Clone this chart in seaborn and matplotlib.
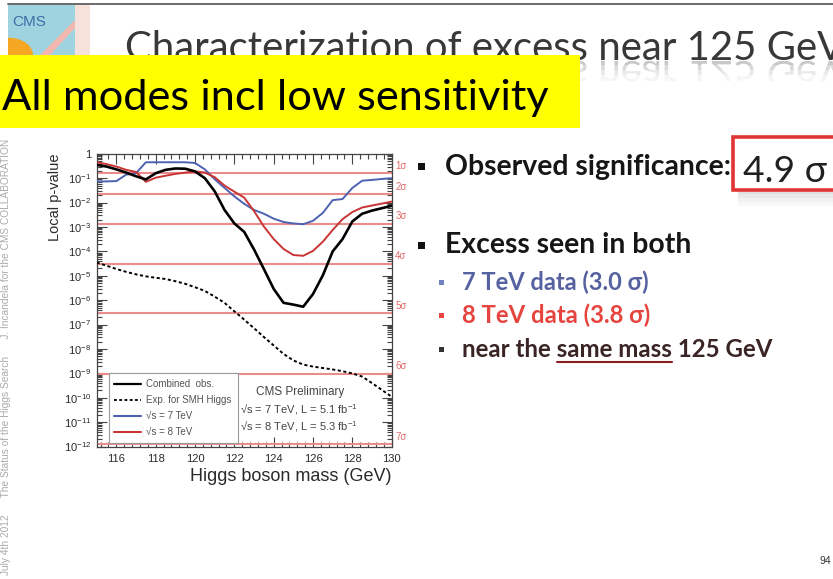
import matplotlib
matplotlib.use("Agg")
import matplotlib.pyplot as plt
from matplotlib.lines import Line2D
from matplotlib.patches import Rectangle, PathPatch, Wedge, Polygon
from matplotlib.textpath import TextPath
from matplotlib.font_manager import FontProperties
from matplotlib.transforms import Affine2D, Bbox, blended_transform_factory
from matplotlib.ticker import LogLocator, MultipleLocator, NullFormatter
import seaborn as sns

# ---------------------------------------------------------------- data
mass = [115.0, 115.5, 116.0, 116.5, 117.0, 117.5, 118.0, 118.5, 119.0, 119.5,
        120.0, 120.5, 121.0, 121.5, 122.0, 122.5, 123.0, 123.5, 124.0, 124.5,
        125.0, 125.5, 126.0, 126.5, 127.0, 127.5, 128.0, 128.5, 129.0, 129.5,
        130.0]

p_combined = [3.5e-1, 3.0e-1, 2.3e-1, 1.7e-1, 1.2e-1, 8.9e-2, 1.6e-1, 2.2e-1, 2.5e-1, 2.45e-1,
              1.9e-1, 1.0e-1, 2.9e-2, 5.0e-3, 1.4e-3, 6.3e-4, 1.2e-4, 1.9e-5, 2.9e-6, 7.8e-7,
              6.6e-7, 5.4e-7, 1.8e-6, 1.05e-5, 1.0e-4, 3.2e-4, 1.7e-3, 3.5e-3, 4.7e-3, 5.9e-3,
              7.4e-3]

p_expected = [3.5e-5, 2.6e-5, 1.9e-5, 1.45e-5, 1.15e-5, 9.5e-6, 8.3e-6, 7.4e-6, 6.0e-6, 4.7e-6,
              3.4e-6, 2.4e-6, 1.4e-6, 7.8e-7, 3.5e-7, 1.6e-7, 7.1e-8, 3.1e-8, 1.4e-8, 6.3e-9,
              3.4e-9, 2.3e-9, 1.9e-9, 1.66e-9, 1.45e-9, 1.23e-9, 1.0e-9, 7.4e-10, 4.0e-10, 2.1e-10,
              1.1e-10]

p_7tev = [7.4e-2, 7.4e-2, 7.6e-2, 1.4e-1, 1.6e-1, 4.5e-1, 4.5e-1, 4.5e-1, 4.5e-1, 4.5e-1,
          4.2e-1, 2.3e-1, 9.1e-2, 4.0e-2, 1.8e-2, 8.9e-3, 5.0e-3, 3.5e-3, 2.2e-3, 1.6e-3,
          1.4e-3, 1.3e-3, 1.8e-3, 3.8e-3, 1.26e-2, 1.4e-2, 4.0e-2, 7.9e-2, 8.5e-2, 9.3e-2,
          1.0e-1]

p_8tev = [4.5e-1, 3.8e-1, 3.0e-1, 2.2e-1, 1.8e-1, 7.1e-2, 1.05e-1, 1.26e-1, 1.5e-1, 1.7e-1,
          1.9e-1, 1.7e-1, 1.1e-1, 5.0e-2, 2.8e-2, 1.6e-2, 4.5e-3, 1.05e-3, 3.2e-4, 1.26e-4,
          7.1e-5, 6.6e-5, 1.05e-4, 2.5e-4, 7.6e-4, 2.1e-3, 4.1e-3, 6.3e-3, 7.6e-3, 9.1e-3,
          1.1e-2]

legend_labels = ["Combined  obs.", "Exp. for SMH Higgs", "\u221as = 7 TeV", "\u221as = 8 TeV"]

sigma_labels = ["1\u03c3", "2\u03c3", "3\u03c3", "4\u03c3", "5\u03c3", "6\u03c3", "7\u03c3"]
sigma_pvalues = [1.587e-1, 2.275e-2, 1.350e-3, 3.167e-5, 2.867e-7, 9.866e-10, 1.280e-12]

x_ticks = [116, 118, 120, 122, 124, 126, 128, 130]
y_ticks = [1, 1e-1, 1e-2, 1e-3, 1e-4, 1e-5, 1e-6, 1e-7, 1e-8, 1e-9, 1e-10, 1e-11, 1e-12]
y_tick_labels = ["1", "$10^{-1}$", "$10^{-2}$", "$10^{-3}$", "$10^{-4}$", "$10^{-5}$",
                 "$10^{-6}$", "$10^{-7}$", "$10^{-8}$", "$10^{-9}$", "$10^{-10}$",
                 "$10^{-11}$", "$10^{-12}$"]

# ---------------------------------------------------------------- style
sns.set_theme(style="ticks")
plt.rcParams["font.family"] = ["Liberation Sans", "DejaVu Sans"]
plt.rcParams["mathtext.fontset"] = "custom"
plt.rcParams["mathtext.rm"] = "Liberation Sans"
plt.rcParams["mathtext.it"] = "Liberation Sans:italic"
plt.rcParams["mathtext.bf"] = "Liberation Sans:bold"

W, H = 833, 579
fig = plt.figure(figsize=(W / 100, H / 100), dpi=100)
fig.patch.set_facecolor("white")
renderer = fig.canvas.get_renderer()


def fx(x):
    return x / W


def fy(y):
    return 1 - y / H


BLUE = "#4d62b3"
RED = "#c93434"
SIG_RED = "#ea8c8c"

# ---------------------------------------------------------------- p-value plot
ax = fig.add_axes([fx(96.7), fy(446.6), 295 / W, 292.8 / H])
ax.set_facecolor("white")
ax.set_yscale("log")

for p, name in zip(sigma_pvalues, sigma_labels):
    ax.axhline(p, color=SIG_RED, lw=1.5, zorder=1)
blend = blended_transform_factory(ax.transAxes, ax.transData)
for p, name in zip(sigma_pvalues, sigma_labels):
    ax.text(1.012, p * 1.25, name, transform=blend, color="#e06a6a", fontsize=7,
            va="bottom", ha="left", clip_on=False)

sns.lineplot(x=mass, y=p_expected, ax=ax, color="black", linewidth=1.4,
             linestyle=(0, (1.6, 1.3)), zorder=3)
sns.lineplot(x=mass, y=p_7tev, ax=ax, color=BLUE, linewidth=1.4, zorder=3)
sns.lineplot(x=mass, y=p_8tev, ax=ax, color=RED, linewidth=1.4, zorder=3)
sns.lineplot(x=mass, y=p_combined, ax=ax, color="black", linewidth=1.9, zorder=4)

ax.set_xlim(115, 130)
ax.set_ylim(1e-12, 1)
ax.set_xticks(x_ticks)
ax.xaxis.set_minor_locator(MultipleLocator(0.4))
ax.set_yticks(y_ticks, y_tick_labels)
ax.yaxis.set_minor_locator(LogLocator(base=10, subs=(2, 3, 4, 5, 6, 7, 8, 9), numticks=40))
ax.yaxis.set_minor_formatter(NullFormatter())
ax.tick_params(which="both", direction="in", top=True, right=True, color="#444",
               width=0.8, labelsize=8, labelcolor="#2a2a2a")
ax.tick_params(which="major", length=7)
ax.tick_params(which="minor", length=3.5)
ax.tick_params(axis="y", pad=4)
ax.tick_params(axis="x", pad=5)
for s in ax.spines.values():
    s.set_color("#444")
    s.set_linewidth(0.9)

ax.set_xlabel("Higgs boson mass (GeV)", fontsize=13, loc="right", labelpad=3, color="#2a2a2a")
ax.set_ylabel("Local p-value", fontsize=10.5, loc="top", color="#2a2a2a")
ax.yaxis.set_label_coords(-0.118, 1.0)

handles = [Line2D([], [], color="black", lw=1.6),
           Line2D([], [], color="black", lw=1.3, linestyle=(0, (1.6, 1.3))),
           Line2D([], [], color=BLUE, lw=1.5),
           Line2D([], [], color=RED, lw=1.5)]
leg = ax.legend(handles, legend_labels, loc="lower left", bbox_to_anchor=(0.04, 0.012),
                fontsize=7, frameon=True, fancybox=False, edgecolor="#9a9a9a",
                framealpha=1, handlelength=2.7, labelspacing=0.62, borderpad=0.6,
                handletextpad=0.6, borderaxespad=0)
leg.get_frame().set_linewidth(0.8)
for t in leg.get_texts():
    t.set_color("#555")

ax.text(0.69, 0.188, "CMS Preliminary", transform=ax.transAxes, fontsize=8.5,
        color="#444", ha="center", va="center")
ax.text(0.485, 0.125, "\u221as = 7 TeV, L = 5.1 fb$^{-1}$", transform=ax.transAxes,
        fontsize=8, color="#444", ha="left", va="center")
ax.text(0.485, 0.068, "\u221as = 8 TeV, L = 5.3 fb$^{-1}$", transform=ax.transAxes,
        fontsize=8, color="#444", ha="left", va="center")

# ---------------------------------------------------------------- slide frame


def fitted_text(x, y, s, width, **kw):
    t = fig.text(fx(x), fy(y), s, **kw)
    w = t.get_window_extent(renderer).width
    t.set_fontsize(t.get_fontsize() * width / w)
    return t


LATO = ["Lato", "DejaVu Sans"]

# top rule and logo
fig.add_artist(Line2D([fx(8), 1], [fy(4), fy(4)], color="#6a6a6a", lw=1.4, zorder=2))
fig.add_artist(Rectangle((fx(8), fy(55)), 67 / W, 51 / H, transform=fig.transFigure,
                         facecolor="#9fd3df", edgecolor="none", zorder=1))
fig.add_artist(Rectangle((fx(75), fy(55)), 15 / W, 51 / H, transform=fig.transFigure,
                         facecolor="#f6e2da", edgecolor="none", zorder=1))
fig.add_artist(Wedge((fx(8), fy(55)), 0.03, 0, 90, transform=fig.transFigure,
                     facecolor="#f5a623", edgecolor="none", zorder=1))
fig.add_artist(Polygon([(fx(40), fy(55)), (fx(75), fy(20)), (fx(75), fy(28)), (fx(50), fy(55))],
                       closed=True, transform=fig.transFigure, facecolor="#f2b8b0",
                       edgecolor="none", zorder=1))
fig.text(fx(12), fy(22), "CMS", fontsize=11, color="#3d6fa8", ha="left", va="center",
         zorder=2)

# slide title with its faded mirror image
TITLE_BASE = 60
title = fitted_text(125, TITLE_BASE, "Characterization of excess near 125 GeV", 720,
                    family=LATO, color="#383838", fontsize=28, va="baseline",
                    ha="left", zorder=1)
fs_px = title.get_fontsize() * 100 / 72
tpath = TextPath((0, 0), title.get_text(), size=fs_px, prop=FontProperties(family="Lato"))
base_y = H - TITLE_BASE - 1
for y0, y1, a in [(base_y - 4, base_y, 0.32), (base_y - 9, base_y - 4, 0.22),
                  (base_y - 14, base_y - 9, 0.13), (base_y - 20, base_y - 14, 0.06)]:
    refl = PathPatch(tpath, transform=Affine2D().scale(1, -1).translate(125, base_y),
                     facecolor="#555555", edgecolor="none", alpha=a, zorder=1)
    refl.set_clip_box(Bbox.from_extents(0, y0, W, y1))
    fig.add_artist(refl)

# yellow banner
fig.add_artist(Rectangle((0, fy(128)), fx(580), (128 - 55) / H, transform=fig.transFigure,
                         facecolor="#ffff00", edgecolor="none", zorder=5))
fitted_text(2, 110, "All modes incl low sensitivity", 547, family=LATO, color="black",
            fontsize=28, va="baseline", ha="left", zorder=6)

# bullet list
for yb in (166.5, 245):
    fig.add_artist(Rectangle((fx(418), fy(yb + 3.5)), 7 / W, 7 / H, transform=fig.transFigure,
                             facecolor="#111", edgecolor="none", zorder=3))
fitted_text(445, 175, "Observed significance:", 286, family=LATO, weight="bold",
            color="#161616", fontsize=17, va="baseline", ha="left", zorder=3)
fitted_text(445, 253, "Excess seen in both", 247, family=LATO, weight="bold",
            color="#161616", fontsize=17, va="baseline", ha="left", zorder=3)

# highlighted significance box with a soft shadow
for i, a in enumerate([0.22, 0.15, 0.09, 0.04]):
    fig.add_artist(Rectangle((fx(738), fy(190 + 4 * (i + 1))), 100 / W, 4 / H,
                             transform=fig.transFigure, facecolor="#777", edgecolor="none",
                             alpha=a, zorder=3))
fig.add_artist(Rectangle((fx(733), fy(190)), 115 / W, 53 / H, transform=fig.transFigure,
                         facecolor="white", edgecolor="#e23434", lw=2.6, zorder=4))
fitted_text(743, 182, "4.9 \u03c3", 84, family=LATO, color="#202020", fontsize=24,
            va="baseline", ha="left", zorder=5)

sub_items = [("7 TeV data (3.0 \u03c3)", 290, 186, "#56629f", "#7080c0"),
             ("8 TeV data (3.8 \u03c3)", 323, 188, "#e6453f", "#e6453f")]
for text, yb, width, col, bcol in sub_items:
    fig.add_artist(Rectangle((fx(439), fy(yb - 5)), 5 / W, 5 / H, transform=fig.transFigure,
                             facecolor=bcol, edgecolor="none", zorder=3))
    fitted_text(462, yb, text, width, family=LATO, weight="bold", color=col, fontsize=13,
                va="baseline", ha="left", zorder=3)

fig.add_artist(Rectangle((fx(439), fy(352)), 5 / W, 5 / H, transform=fig.transFigure,
                         facecolor="#333", edgecolor="none", zorder=3))
near = fitted_text(462, 357, "near the same mass 125 GeV", 310, family=LATO, weight="bold",
                   color="#3a2424", fontsize=13, va="baseline", ha="left", zorder=3)
probe_a = fig.text(fx(462), fy(357), "near the ", family=LATO, weight="bold",
                   fontsize=near.get_fontsize(), va="baseline", ha="left")
probe_b = fig.text(fx(462), fy(357), "near the same mass", family=LATO, weight="bold",
                   fontsize=near.get_fontsize(), va="baseline", ha="left")
xa = probe_a.get_window_extent(renderer).x1
xb = probe_b.get_window_extent(renderer).x1
probe_a.remove()
probe_b.remove()
fig.add_artist(Line2D([xa / W, xb / W], [fy(362), fy(362)], color="#8a1e1e", lw=1.5, zorder=3))

# side footer and page number
side = fig.text(fx(6), fy(575),
                "July 4th 2012      The Status of the Higgs Search      "
                "J. Incandela for the CMS COLLABORATION",
                rotation=90, fontsize=6, color="#ababab", ha="center", va="bottom", zorder=2)
h = side.get_window_extent(renderer).height
side.set_fontsize(side.get_fontsize() * 440 / h)
fig.text(fx(831), fy(561), "94", fontsize=7.5, color="#333", ha="right", va="center")

fig.savefig("out.png", dpi=100, facecolor="white")
